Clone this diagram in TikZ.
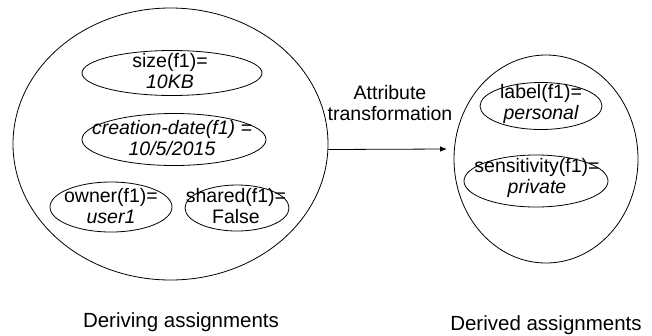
\documentclass[tikz,border=0pt]{standalone}
\usepackage{fontspec}
\setmainfont{Liberation Sans}
\usetikzlibrary{shapes.geometric,arrows.meta}
\begin{document}
\begin{tikzpicture}[x=1pt,y=-1pt,
  ell/.style={draw, ellipse, line width=0.8pt, inner sep=0pt},
  txt/.style={align=center, inner sep=0pt, font=\fontsize{19.5}{20.5}\selectfont},
  captext/.style={anchor=base, inner sep=0pt, font=\fontsize{20.5}{22}\selectfont}]
\useasboundingbox (0,0) rectangle (652,335);
% left big ellipse
\node[ell, minimum width=315pt, minimum height=272pt] (big) at (170.5,144) {};
\node[ell, minimum width=180pt, minimum height=45pt] (size) at (172,73) {};
\node[txt] (sizet) at (170,71) {size(f1)=\\ \itshape 10KB};
\node[ell, minimum width=184pt, minimum height=52pt] (cd) at (174,139.5) {};
\node[txt] (cdt) at (172,138) {\itshape creation-date(f1) =\\ \itshape 10/5/2015};
\node[ell, minimum width=122pt, minimum height=50pt] (own) at (111,207) {};
\node[txt] (ownt) at (111,206) {owner(f1)=\\ \itshape user1};
\node[ell, minimum width=104pt, minimum height=46pt] (sh) at (237,208) {};
\node[txt] (sht) at (236,206) {shared(f1)=\\ False};
% right ellipse
\node[ell, minimum width=184pt, minimum height=208pt] (right) at (546,159) {};
\node[ell, minimum width=122pt, minimum height=47pt] (lab) at (541,106) {};
\node[txt] (labt) at (541,104) {label(f1)=\\ \itshape personal};
\node[ell, minimum width=144pt, minimum height=52pt] (sens) at (536,181) {};
\node[txt] (senst) at (537,178) {sensitivity(f1)=\\ \itshape private};
% arrow
\coordinate (ae) at (447,149);
\draw[line width=0.8pt, -{Latex[length=7pt,width=5.5pt]}] (big.-2) -- (ae);
\node[txt] (attr) at (390,103) {Attribute\\ transformation};
% captions
\node[captext] (c1) at (181,327) {Deriving assignments};
\node[captext] (c2) at (546,330) {Derived assignments};
\end{tikzpicture}
\end{document}
